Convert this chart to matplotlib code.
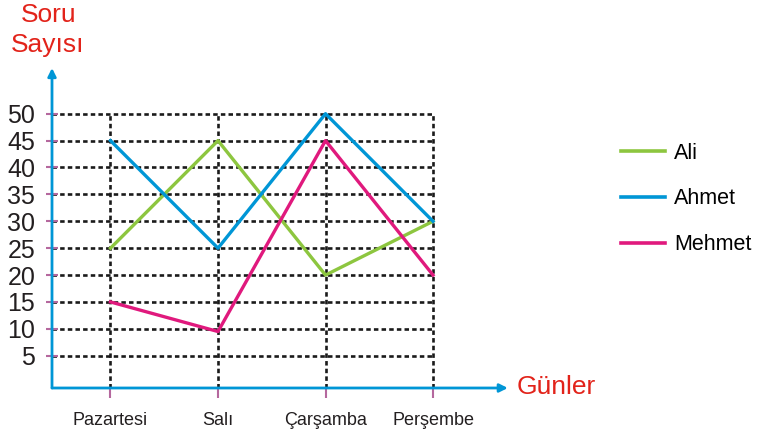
import matplotlib
matplotlib.use("Agg")
import matplotlib.pyplot as plt
from matplotlib.lines import Line2D

plt.rcParams["font.family"] = ["Liberation Sans", "DejaVu Sans"]

days = ["Pazartesi", "Salı", "Çarşamba", "Perşembe"]
ali = [25, 45, 20, 30]
ahmet = [45, 25, 50, 30]
mehmet = [15, 9.5, 45, 20]
y_ticks = [5, 10, 15, 20, 25, 30, 35, 40, 45, 50]

GREEN = "#8dc63f"
BLUE = "#0096d6"
PINK = "#e0197d"
RED = "#e2231a"
TICK = "#b5689e"

W, H = 758, 434
fig = plt.figure(figsize=(W / 100, H / 100), dpi=100)
# axes placed in pixel terms: y axis at x=52, x axis at y=388
ax = fig.add_axes([52 / W, (H - 388) / H, 458 / W, 320 / H])
x = list(range(len(days)))
x0, x1 = -0.544, 3.716
y0, y1 = -1.0, 58.5
ax.set_xlim(x0, x1)
ax.set_ylim(y0, y1)
for s in ax.spines.values():
    s.set_visible(False)

# dotted grid
dash = (0, (1.7, 1.2))
ax.hlines(y_ticks, x0, x[-1], colors="#1a1a1a", linestyles=dash, linewidth=1.9, zorder=1)
ax.vlines(x, y0, y_ticks[-1], colors="#1a1a1a", linestyles=dash, linewidth=1.9, zorder=1)

# axes with arrows
arrow = dict(arrowstyle="-|>", color=BLUE, lw=2, mutation_scale=12, shrinkA=0, shrinkB=0)
ax.annotate("", xy=(x0, y1), xytext=(x0, y0), arrowprops=arrow, annotation_clip=False, zorder=3)
ax.annotate("", xy=(x1 - 0.02, y0), xytext=(x0, y0), arrowprops=arrow, annotation_clip=False, zorder=3)

ax.plot(x, ali, color=GREEN, lw=2.4, zorder=4)
ax.plot(x, ahmet, color=BLUE, lw=2.4, zorder=4)
ax.plot(x, mehmet, color=PINK, lw=2.4, zorder=4)

ax.set_yticks(y_ticks)
ax.set_yticklabels([str(v) for v in y_ticks], fontsize=18, color="#231f20")
ax.set_xticks(x)
ax.set_xticklabels(days, fontsize=13, color="#231f20")
ax.tick_params(axis="y", direction="inout", length=8, width=1.5, color=TICK, pad=8)
ax.tick_params(axis="x", direction="out", length=7, width=1.5, color=TICK, pad=10)

fig.text(49 / W, 1 - 15 / H, "Soru", color=RED, fontsize=19, ha="center", va="center")
fig.text(48 / W, 1 - 45 / H, "Sayısı", color=RED, fontsize=19, ha="center", va="center")
fig.text(517 / W, 1 - 387 / H, "Günler", color=RED, fontsize=19, ha="left", va="center")

handles = [Line2D([], [], color=c, lw=2.6) for c in (GREEN, BLUE, PINK)]
fig.legend(handles, ["Ali", "Ahmet", "Mehmet"], loc="upper left",
           bbox_to_anchor=(612 / W, 1 - 134 / H), frameon=False, fontsize=15.5,
           handlelength=2.05, handletextpad=0.45, labelspacing=1.15, borderaxespad=0)

fig.savefig("out.png", dpi=100)
